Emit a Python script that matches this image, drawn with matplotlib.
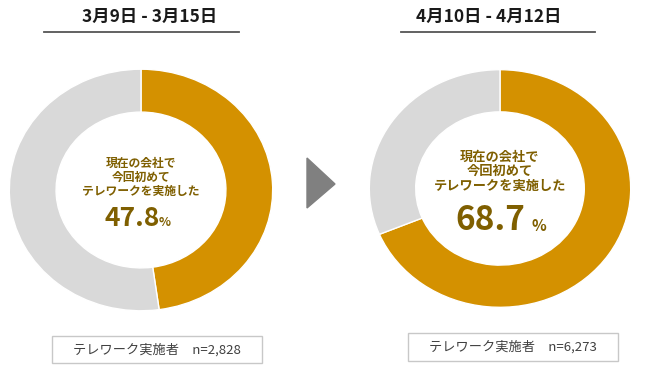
import matplotlib
matplotlib.use("Agg")
import matplotlib.pyplot as plt
from matplotlib.patches import Polygon, Rectangle

plt.rcParams['font.family'] = ['Noto Sans CJK JP', 'DejaVu Sans']

# Data
periods = ["3月9日 - 3月15日", "4月10日 - 4月12日"]
first_time = [47.8, 68.7]
sample_n = ["2,828", "6,273"]
center_label = "現在の会社で\n今回初めて\nテレワークを実施した"

gold = "#D49100"
grey = "#D9D9D9"
brown = "#7F5F00"

W, H = 650, 377
fig = plt.figure(figsize=(6.5, 3.77), dpi=100)

# donut geometry in pixels: centre x, centre y, x radius, y radius (slightly squashed)
donuts = [(141, 190, 133, 122), (500, 188.5, 132, 120)]

for i, (cx, cy, rx, ry) in enumerate(donuts):
    dax = fig.add_axes([(cx - rx) / W, (H - cy - ry) / H, 2 * rx / W, 2 * ry / H])
    dax.pie([first_time[i], 100 - first_time[i]], colors=[gold, grey],
            startangle=90, counterclock=False, radius=1,
            wedgeprops=dict(width=0.355, edgecolor="white", linewidth=1))
    dax.set_aspect("auto")
    dax.set_xlim(-1.01, 1.01)
    dax.set_ylim(-1.01, 1.01)
    dax.axis("off")

# overlay for text and shapes, in pixel coordinates (y measured from top)
ax = fig.add_axes([0, 0, 1, 1])
ax.set_xlim(0, W)
ax.set_ylim(H, 0)
ax.axis("off")
ax.patch.set_alpha(0)

title_x = [150, 489]
line_span = [(44, 239), (401, 595)]
box = [(52, 336, 210, 27), (408, 333, 210, 28)]
lab_y = [[163, 177, 191], [157, 171, 186]]
lab_size = [8.5, 9.5]
num_x = [132, 490]
num_y = [218, 220]
num_size = [19, 24]
pct_x = [159, 532]
pct_size = [9, 11]

for i in range(2):
    cx = donuts[i][0]
    ax.text(title_x[i], 17, periods[i], ha="center", va="center",
            fontsize=12.5, fontweight="bold", color="#1a1a1a")
    ax.plot(line_span[i], [32, 32], color="#555555", lw=1.3)

    for txt, y in zip(center_label.split("\n"), lab_y[i]):
        ax.text(cx, y, txt, ha="center", va="center",
                fontsize=lab_size[i], fontweight="bold", color=brown)
    ax.text(num_x[i], num_y[i], f"{first_time[i]}", ha="center", va="center",
            fontsize=num_size[i], fontweight="bold", color=brown)
    ax.text(pct_x[i], num_y[i] + num_size[i] * 0.25, "%", ha="left", va="center",
            fontsize=pct_size[i], fontweight="bold", color=brown)

    bx, by, bw, bh = box[i]
    ax.add_patch(Rectangle((bx, by), bw, bh, fill=False, edgecolor="#C8C8C8", lw=1))
    ax.text(bx + bw / 2, by + bh / 2, f"テレワーク実施者　n={sample_n[i]}",
            ha="center", va="center", fontsize=9.5, color="#404040")

# arrow between the two donuts
ax.add_patch(Polygon([(307, 158), (335, 184), (307, 208)], closed=True, color="#808080"))

fig.savefig("out.png", dpi=100)
